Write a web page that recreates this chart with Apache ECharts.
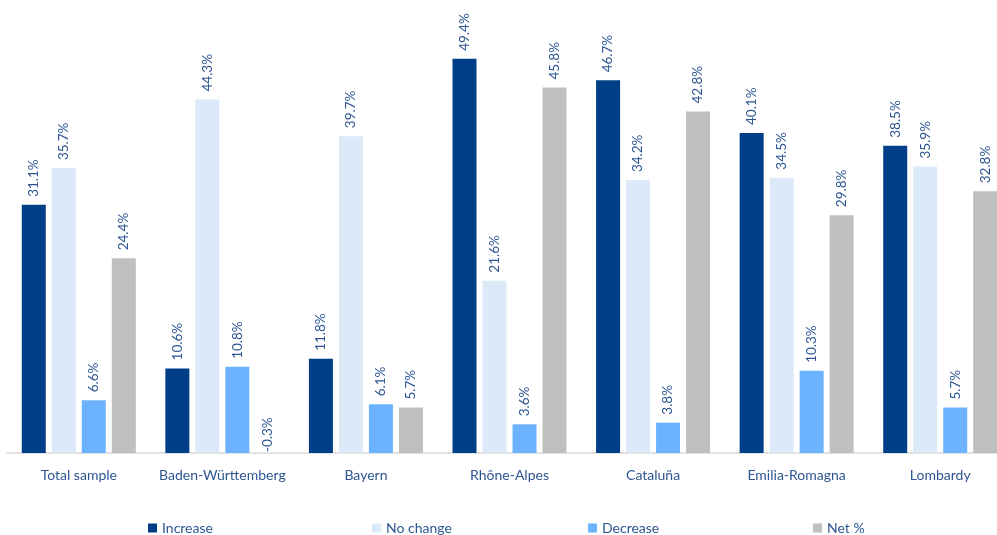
<!DOCTYPE html>
<html>
<head>
<meta charset="utf-8">
<script src="https://cdn.jsdelivr.net/npm/echarts@6/dist/echarts.min.js"></script>
<style>
  html, body { margin: 0; padding: 0; background: #fff; overflow: hidden; }
  /* chart is a bit wider than the window: the last bar is cut off in the original */
  #chart { width: 1015px; height: 535px; }
</style>
</head>
<body>
<div id="chart"></div>
<script>
var categories = ['Total sample', 'Baden-Württemberg', 'Bayern', 'Rhône-Alpes', 'Cataluña', 'Emilia-Romagna', 'Lombardy'];
var increase = [31.1, 10.6, 11.8, 49.4, 46.7, 40.1, 38.5];
var noChange = [35.7, 44.3, 39.7, 21.6, 34.2, 34.5, 35.9];
var decrease = [6.6, 10.8, 6.1, 3.6, 3.8, 10.3, 5.7];
var netPct = [24.4, -0.3, 5.7, 45.8, 42.8, 29.8, 32.8];
var seriesNames = ['Increase', 'No change', 'Decrease', 'Net %'];
var colors = ['#003f87', '#dce9f8', '#6cb3ff', '#bfbfbf'];

var font = 'Lato';
var textBlue = '#2c5592';

function series(name, data, color) {
    return {
        name: name,
        type: 'bar',
        // negative values: label sits right on the axis
        data: data.map(function(v) {
            return v < 0 ? { value: v, label: { distance: 1 } } : v;
        }),
        barWidth: 24,
        barGap: '25%',
        itemStyle: { color: color },
        label: {
            show: true,
            position: 'top',
            rotate: 90,
            align: 'left',
            verticalAlign: 'middle',
            distance: 8,
            fontFamily: font,
            fontSize: 13.5,
            color: textBlue,
            formatter: function(p) { return p.value.toFixed(1) + '%'; }
        }
    };
}

// one legend per item so they can be spread like the original
var legendLeft = [148, 372, 588, 813];
var legends = seriesNames.map(function(n, i) {
    return {
        left: legendLeft[i],
        top: 521,
        padding: 0,
        itemWidth: 9,
        itemHeight: 9,
        icon: 'rect',
        textStyle: { fontFamily: font, fontSize: 14, color: textBlue },
        data: [n]
    };
});

var chart = echarts.init(document.getElementById('chart'));
chart.setOption({
    animation: false,
    grid: { left: 7, right: 3, top: 54, height: 399, containLabel: false },
    legend: legends,
    xAxis: {
        type: 'category',
        data: categories,
        axisLine: { lineStyle: { color: '#d9d9d9', width: 1.5 } },
        axisTick: { show: false },
        axisLabel: { interval: 0, fontFamily: font, fontSize: 14, color: textBlue, margin: 15 }
    },
    yAxis: {
        type: 'value',
        min: 0,
        max: 50,
        show: false,
        splitLine: { show: false }
    },
    series: [
        series('Increase', increase, colors[0]),
        series('No change', noChange, colors[1]),
        series('Decrease', decrease, colors[2]),
        series('Net %', netPct, colors[3])
    ]
});
</script>
</body>
</html>
